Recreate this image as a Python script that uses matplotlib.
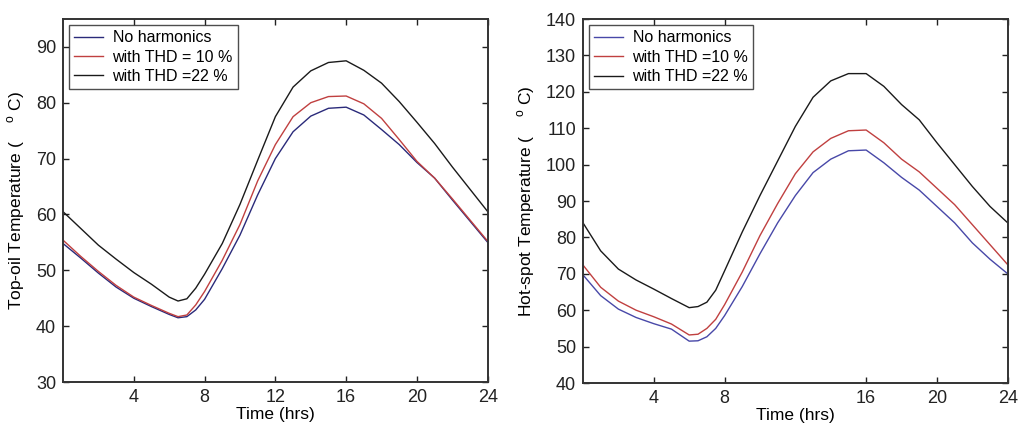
import matplotlib
matplotlib.use("Agg")
import matplotlib.pyplot as plt

plt.rcParams['font.family'] = ['Liberation Sans', 'DejaVu Sans']
plt.rcParams['mathtext.fontset'] = 'custom'
plt.rcParams['mathtext.rm'] = 'Liberation Sans'

hours = [0, 1, 2, 3, 4, 5, 6, 6.5, 7, 7.5, 8, 9, 10, 11, 12,
         13, 14, 15, 16, 17, 18, 19, 20, 21, 22, 23, 24]

# Top-oil temperature (deg C)
top_none = [54.8, 52.2, 49.5, 47.0, 45.0, 43.5, 42.1, 41.5, 41.7, 42.9, 44.8, 50.3, 56.3, 63.5, 70.0,
            74.8, 77.6, 79.0, 79.2, 77.8, 75.2, 72.5, 69.3, 66.5, 62.6, 58.8, 55.0]
top_thd10 = [55.4, 52.5, 49.8, 47.3, 45.2, 43.7, 42.3, 41.7, 42.0, 43.8, 46.2, 51.8, 58.2, 66.0, 72.5,
             77.5, 80.0, 81.1, 81.2, 79.8, 77.2, 73.4, 69.5, 66.5, 62.8, 59.0, 55.2]
top_thd22 = [60.5, 57.5, 54.5, 52.0, 49.6, 47.5, 45.2, 44.5, 44.9, 46.8, 49.3, 54.8, 61.8, 69.7, 77.5,
             82.8, 85.7, 87.2, 87.5, 85.8, 83.5, 80.2, 76.5, 72.7, 68.5, 64.5, 60.5]

# Hot-spot temperature (deg C)
hot_none = [69.7, 64.0, 60.3, 58.0, 56.3, 54.8, 51.5, 51.6, 52.7, 55.0, 58.5, 66.5, 75.5, 84.0, 91.5,
            97.8, 101.5, 103.8, 104.0, 100.5, 96.5, 93.0, 88.5, 84.0, 78.5, 74.0, 70.0]
hot_thd10 = [72.4, 66.3, 62.5, 60.0, 58.2, 56.2, 53.2, 53.4, 55.0, 57.5, 61.5, 70.5, 80.5, 89.3, 97.5,
             103.5, 107.2, 109.3, 109.5, 106.0, 101.5, 98.0, 93.5, 89.0, 83.5, 78.0, 72.5]
hot_thd22 = [84.0, 76.3, 71.3, 68.3, 65.8, 63.2, 60.7, 61.0, 62.2, 65.5, 70.8, 81.5, 91.5, 101.0, 110.5,
             118.5, 123.0, 125.0, 125.0, 121.5, 116.5, 112.3, 106.0, 100.0, 94.0, 88.5, 84.0]

left_labels = ['No harmonics', 'with THD = 10 %', 'with THD =22 %']
right_labels = ['No harmonics', 'with THD =10 %', 'with THD =22 %']
left_xticks = [4, 8, 12, 16, 20, 24]
right_xticks = [4, 8, 16, 20, 24]
left_yticks = [30, 40, 50, 60, 70, 80, 90]
right_yticks = [40, 50, 60, 70, 80, 90, 100, 110, 120, 130, 140]

fig = plt.figure(figsize=(10.21, 4.30), dpi=100)
ax1 = fig.add_axes([0.0617, 0.1116, 0.416, 0.8444])
ax2 = fig.add_axes([0.571, 0.1093, 0.416, 0.8465])

red = '#c04040'
black = '#1a1a1a'

ax1.plot(hours, top_none, color='#2a2a7a', lw=1.0, label=left_labels[0])
ax1.plot(hours, top_thd10, color=red, lw=1.0, label=left_labels[1])
ax1.plot(hours, top_thd22, color=black, lw=1.0, label=left_labels[2])

ax2.plot(hours, hot_none, color='#4848a8', lw=1.0, label=right_labels[0])
ax2.plot(hours, hot_thd10, color=red, lw=1.0, label=right_labels[1])
ax2.plot(hours, hot_thd22, color=black, lw=1.0, label=right_labels[2])

for ax, xt, yt, ylim, ylab in [
        (ax1, left_xticks, left_yticks, (30, 95), r'Top-oil Temperature (    $^{\rm o}$ C)'),
        (ax2, right_xticks, right_yticks, (40, 140), r'Hot-spot Temperature (    $^{\rm o}$ C)')]:
    ax.set_xlim(0, 24)
    ax.set_ylim(*ylim)
    ax.set_xticks(xt)
    ax.set_yticks(yt)
    ax.tick_params(direction='in', top=True, right=True, length=4, width=1,
                   labelsize=13, colors='#222222', pad=5)
    for s in ax.spines.values():
        s.set_linewidth(1.4)
        s.set_color('#333333')
    ax.set_xlabel('Time (hrs)', fontsize=12.5, labelpad=1)
    ax.set_ylabel(ylab, fontsize=12.5, labelpad=6)
    leg = ax.legend(loc='upper left', fontsize=11.5, frameon=True, fancybox=False,
                    edgecolor='#222222', handlelength=1.8, borderpad=0.3,
                    labelspacing=0.28, borderaxespad=0.4, handletextpad=0.6)
    leg.get_frame().set_linewidth(1.0)

fig.savefig('out.png', dpi=100)
